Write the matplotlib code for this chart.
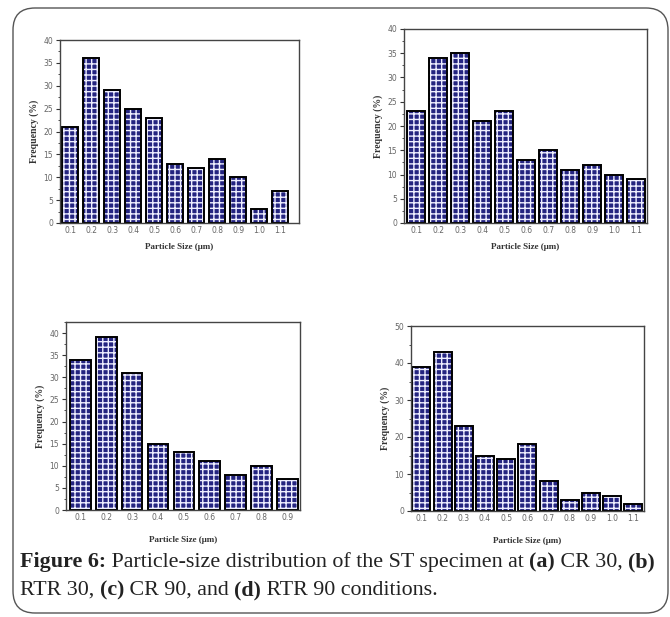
import matplotlib
matplotlib.use("Agg")
import matplotlib.pyplot as plt
import numpy as np
from matplotlib.patches import FancyBboxPatch
from matplotlib.transforms import IdentityTransform
from matplotlib.ticker import MultipleLocator

# particle sizes (um) and frequencies (%)
sizes_11 = [0.1, 0.2, 0.3, 0.4, 0.5, 0.6, 0.7, 0.8, 0.9, 1.0, 1.1]
sizes_9 = [0.1, 0.2, 0.3, 0.4, 0.5, 0.6, 0.7, 0.8, 0.9]
labels_11 = ["0.1", "0.2", "0.3", "0.4", "0.5", "0.6", "0.7", "0.8", "0.9", "1.0", "1.1"]
labels_9 = labels_11[:9]

freq_cr30 = [21, 36, 29, 25, 23, 13, 12, 14, 10, 3, 7]
freq_rtr30 = [23, 34, 35, 21, 23, 13, 15, 11, 12, 10, 9]
freq_cr90 = [34, 39, 31, 15, 13, 11, 8, 10, 7]
freq_rtr90 = [39, 43, 23, 15, 14, 18, 8, 3, 5, 4, 2]

plt.rcParams['hatch.linewidth'] = 1.0

fig = plt.figure(figsize=(6.7, 6.17), dpi=100)
W, H = 670, 617

def ax_rect(l, t, r, b):
    return [l / W, 1 - b / H, (r - l) / W, (b - t) / H]

def draw_panel(rect, x, y, labels, xlim, ylim, major, minor, width, xlab_pad, face="#242480"):
    ax = fig.add_axes(ax_rect(*rect))
    # checkered fill: dark face + white hatch grid, then black outline
    ax.bar(x, y, width=width, color=face, edgecolor="#eeeeff", hatch="+++", linewidth=0)
    ax.bar(x, y, width=width, fill=False, edgecolor="black", linewidth=1.4)
    ax.set_xlim(*xlim)
    ax.set_ylim(*ylim)
    ax.set_xticks(x)
    ax.set_xticklabels(labels)
    ax.yaxis.set_major_locator(MultipleLocator(major))
    ax.yaxis.set_minor_locator(MultipleLocator(minor))
    ax.tick_params(axis="both", which="major", labelsize=5.5, labelcolor="#666666",
                   length=3, width=0.8, color="#333333", pad=2)
    ax.tick_params(axis="y", which="minor", length=1.8, width=0.6, color="#333333")
    ax.tick_params(axis="x", which="major", length=0)
    for s in ax.spines.values():
        s.set_color("#444444")
        s.set_linewidth(1.0)
    ax.set_ylabel("Frequency (%)", family="Liberation Serif", weight="bold",
                  fontsize=7, color="#333333", labelpad=3)
    ax.set_xlabel("Particle Size (\u03bcm)", family="Liberation Serif", weight="bold",
                  fontsize=6.5, color="#333333", labelpad=xlab_pad)
    return ax

draw_panel((60, 40, 299, 223), sizes_11, freq_cr30, labels_11, (0.052, 1.19), (0, 40), 5, 2.5, 0.08, 6)
draw_panel((404, 29, 647, 223), sizes_11, freq_rtr30, labels_11, (0.044, 1.149), (0, 40), 5, 2.5, 0.082, 6)
draw_panel((66, 322, 300, 510), sizes_9, freq_cr90, labels_9, (0.045, 0.948), (0, 42.5), 5, 2.5, 0.08, 10)
draw_panel((411, 326, 644, 511), sizes_11, freq_rtr90, labels_11, (0.051, 1.15), (0, 50), 10, 5, 0.085, 10)

# rounded frame around the figure
frame = FancyBboxPatch((13, 4), 655, 605, boxstyle="round,pad=0,rounding_size=22",
                       transform=IdentityTransform(), facecolor="none",
                       edgecolor="#555555", linewidth=1.0)
fig.add_artist(frame)

# caption with mixed bold / regular runs
renderer = fig.canvas.get_renderer()

def draw_runs(x_px, y_px, runs, size=15.8):
    for txt, bold in runs:
        t = fig.text(x_px / W, 1 - y_px / H, txt, family="Liberation Serif",
                     weight="bold" if bold else "normal", fontsize=size,
                     color="#222222", va="baseline", ha="left")
        bb = t.get_window_extent(renderer)
        x_px += bb.width

draw_runs(20, 567, [("Figure 6:", True), (" Particle-size distribution of the ST specimen at ", False),
                    ("(a)", True), (" CR 30, ", False), ("(b)", True)])
draw_runs(20, 595, [("RTR 30, ", False), ("(c)", True), (" CR 90, and ", False),
                    ("(d)", True), (" RTR 90 conditions.", False)])

fig.savefig("out.png", dpi=100)
